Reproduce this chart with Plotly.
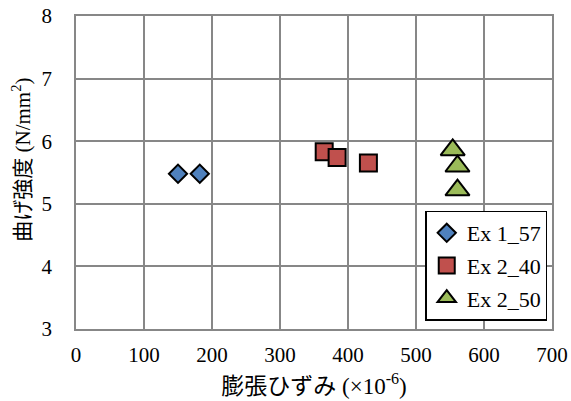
import plotly.graph_objects as go

# Data
ex1_57_x = [150, 182]
ex1_57_y = [5.48, 5.48]
ex2_40_x = [365, 384, 430]
ex2_40_y = [5.83, 5.74, 5.65]
ex2_50_x = [554, 561, 561]
ex2_50_y = [5.86, 5.60, 5.22]

x_ticks = [0, 100, 200, 300, 400, 500, 600, 700]
y_ticks = [3, 4, 5, 6, 7, 8]

FONT = "Liberation Serif"
CJK = "Noto Sans CJK JP"
GRID = "#878787"

fig = go.Figure()
fig.add_trace(go.Scatter(
    x=ex1_57_x, y=ex1_57_y, mode="markers", name="Ex 1_57", legendgroup="a",
    marker=dict(symbol="diamond", size=14, color="#4F81BD",
                line=dict(color="black", width=2)),
))
fig.add_trace(go.Scatter(
    x=ex2_40_x, y=ex2_40_y, mode="markers", name="Ex 2_40", legendgroup="b",
    marker=dict(symbol="square", size=17, color="#C0504D",
                line=dict(color="black", width=2)),
))
fig.add_trace(go.Scatter(
    x=ex2_50_x, y=ex2_50_y, mode="markers", name="Ex 2_50", legendgroup="c",
    marker=dict(symbol="triangle-up", size=21, color="#9BBB59",
                line=dict(color="black", width=2)),
))

y_title = (f"<span style='font-family:{CJK}'>曲げ強度</span>"
           f"<span style='font-family:{FONT}'> (N/mm<sup>2</sup>)</span>")
x_title = (f"<span style='font-family:{CJK}'>膨張ひずみ</span>"
           f"<span style='font-family:{FONT}'> (×10<sup>-6</sup>)</span>")

fig.update_layout(
    width=571, height=401,
    margin=dict(l=76, r=19, t=16, b=72, pad=0),
    paper_bgcolor="white", plot_bgcolor="white",
    font=dict(family=FONT, size=21, color="black"),
    showlegend=True,
    legend=dict(
        x=0.99, xanchor="right", y=0.027, yanchor="bottom",
        bgcolor="white", bordercolor="black", borderwidth=1.5,
        font=dict(family=FONT, size=22, color="black"),
        tracegroupgap=1, traceorder="grouped",
    ),
    xaxis=dict(
        range=[0, 700], tickvals=x_ticks, ticktext=[str(v) for v in x_ticks],
        showgrid=True, gridcolor=GRID, gridwidth=1.5,
        showline=True, linecolor=GRID, linewidth=1.5, mirror=True,
        zeroline=False, ticks="", ticklabelstandoff=6,
        title=dict(text=x_title, standoff=5, font=dict(family=FONT, size=23)),
        automargin=False,
    ),
    yaxis=dict(
        range=[3, 8], tickvals=y_ticks, ticktext=[str(v) for v in y_ticks],
        showgrid=True, gridcolor=GRID, gridwidth=1.5,
        showline=True, linecolor=GRID, linewidth=1.5, mirror=True,
        zeroline=False, ticks="", ticklabelstandoff=18,
        automargin=False,
    ),
    annotations=[dict(
        text=y_title, xref="paper", yref="paper",
        x=-0.116, y=0.54, xanchor="center", yanchor="middle",
        textangle=-90, showarrow=False, font=dict(family=FONT, size=21),
    )],
)

fig.write_html("out.html", config={"displayModeBar": False},
               post_script="document.body.style.margin='0';")
